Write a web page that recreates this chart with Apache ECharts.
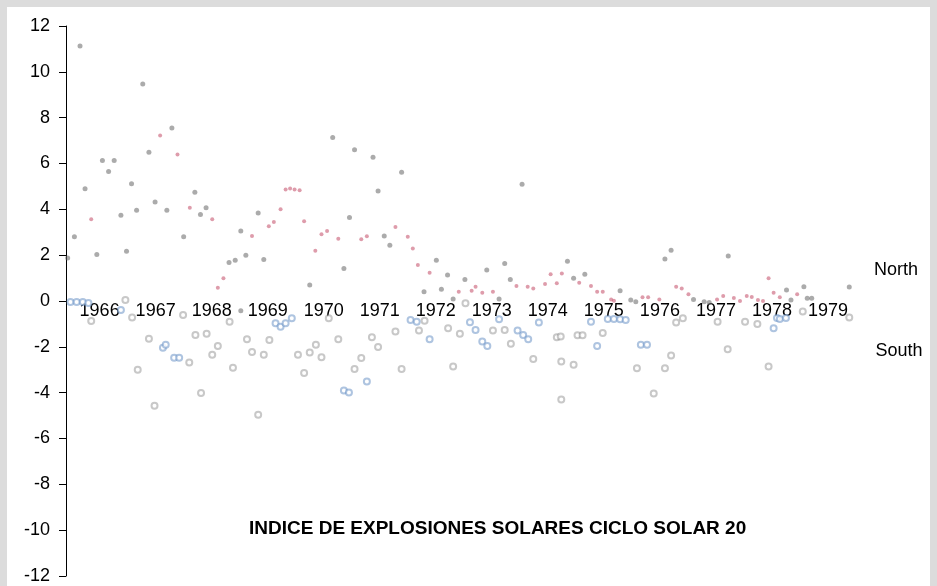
<!DOCTYPE html>
<html>
<head>
<meta charset="utf-8">
<script src="https://cdn.jsdelivr.net/npm/echarts@6/dist/echarts.min.js"></script>
<style>
  html, body { margin: 0; padding: 0; background: #dcdcdc; }
  #chart { width: 937px; height: 586px; }
</style>
</head>
<body>
<div id="chart"></div>
<script>
// años (etiquetas del eje x, centradas a mitad de año)
var years = [1966, 1967, 1968, 1969, 1970, 1971, 1972, 1973, 1974, 1975, 1976, 1977, 1978, 1979];

// hemisferio norte, valores mensuales (puntos grises)
var northMonthly = [
  [1965.93, 1.88], [1966.05, 2.80], [1966.15, 11.13], [1966.24, 4.90], [1966.45, 2.03],
  [1966.55, 6.13], [1966.66, 5.65], [1966.76, 6.13], [1966.88, 3.74], [1966.98, 2.17],
  [1967.07, 5.12], [1967.16, 3.96], [1967.27, 9.47], [1967.38, 6.49], [1967.49, 4.32],
  [1967.70, 3.96], [1967.79, 7.55], [1968.00, 2.80], [1968.20, 4.75], [1968.30, 3.78],
  [1968.40, 4.07], [1968.81, 1.68], [1968.92, 1.78], [1969.02, 3.06], [1969.02, -0.43],
  [1969.11, 2.00], [1969.33, 3.84], [1969.43, 1.81], [1970.25, 0.70], [1970.66, 7.14],
  [1970.86, 1.42], [1970.96, 3.64], [1971.05, 6.60], [1971.38, 6.27], [1971.47, 4.80],
  [1971.58, 2.84], [1971.68, 2.43], [1971.89, 5.62], [1972.29, 0.40], [1972.51, 1.78],
  [1972.60, 0.51], [1972.71, 1.13], [1972.81, 0.09], [1973.02, 0.94], [1973.41, 1.35],
  [1973.63, 0.09], [1973.73, 1.64], [1973.83, 0.94], [1974.04, 5.09], [1974.85, 1.74],
  [1974.96, 0.99], [1975.16, 1.17], [1975.79, 0.45], [1975.98, 0.04], [1976.07, -0.03],
  [1976.59, 1.83], [1976.70, 2.22], [1977.10, 0.07], [1977.29, -0.03], [1977.38, -0.07],
  [1977.72, 1.96], [1978.76, 0.48], [1978.84, 0.04], [1979.07, 0.62], [1979.13, 0.12],
  [1979.21, 0.12], [1979.88, 0.61]
];

// hemisferio norte, media suavizada (puntos rosas)
var northSmooth = [
  [1966.35, 3.57], [1967.58, 7.22], [1967.89, 6.39], [1968.11, 4.07], [1968.51, 3.57],
  [1968.61, 0.58], [1968.71, 0.99], [1969.22, 2.84], [1969.52, 3.26], [1969.61, 3.45],
  [1969.73, 4.00], [1969.82, 4.87], [1969.90, 4.91], [1969.98, 4.87], [1970.07, 4.83],
  [1970.15, 3.48], [1970.35, 2.19], [1970.46, 2.91], [1970.56, 3.06], [1970.76, 2.72],
  [1971.17, 2.70], [1971.27, 2.83], [1971.78, 3.23], [1972.00, 2.80], [1972.09, 2.29],
  [1972.18, 1.57], [1972.39, 1.23], [1972.91, 0.40], [1973.14, 0.45], [1973.21, 0.62],
  [1973.33, 0.36], [1973.52, 0.40], [1973.94, 0.65], [1974.14, 0.62], [1974.24, 0.55],
  [1974.45, 0.74], [1974.55, 1.17], [1974.66, 0.77], [1974.75, 1.20], [1975.06, 0.80],
  [1975.27, 0.65], [1975.38, 0.40], [1975.48, 0.40], [1975.63, 0.07], [1975.68, 0.01],
  [1976.19, 0.16], [1976.29, 0.16], [1976.49, 0.07], [1976.79, 0.62], [1976.89, 0.55],
  [1977.01, 0.30], [1977.52, 0.07], [1977.63, 0.22], [1977.82, 0.13], [1977.93, 0.00],
  [1978.05, 0.22], [1978.14, 0.17], [1978.25, 0.04], [1978.34, 0.00], [1978.44, 0.99],
  [1978.53, 0.36], [1978.64, 0.16], [1978.95, 0.30]
];

// hemisferio sur, valores mensuales (circulos grises)
var southMonthly = [
  [1966.35, -0.87], [1966.96, 0.04], [1967.08, -0.72], [1967.18, -3.00], [1967.38, -1.65],
  [1967.48, -4.57], [1967.99, -0.61], [1968.10, -2.68], [1968.21, -1.48], [1968.31, -4.01],
  [1968.41, -1.43], [1968.51, -2.35], [1968.61, -1.96], [1968.82, -0.90], [1968.88, -2.91],
  [1969.13, -1.67], [1969.22, -2.23], [1969.33, -4.96], [1969.43, -2.35], [1969.53, -1.70],
  [1970.04, -2.35], [1970.15, -3.14], [1970.25, -2.25], [1970.36, -1.91], [1970.46, -2.45],
  [1970.59, -0.75], [1970.76, -1.67], [1971.05, -2.97], [1971.17, -2.49], [1971.36, -1.58],
  [1971.47, -2.01], [1971.78, -1.33], [1971.89, -2.97], [1972.20, -1.29], [1972.30, -0.86],
  [1972.72, -1.19], [1972.81, -2.86], [1972.93, -1.43], [1973.03, -0.10], [1973.52, -1.29],
  [1973.73, -1.26], [1973.84, -1.87], [1974.24, -2.53], [1974.66, -1.58], [1974.73, -1.55],
  [1974.74, -2.64], [1974.74, -4.30], [1974.96, -2.78], [1975.03, -1.49], [1975.12, -1.49],
  [1975.48, -1.40], [1976.09, -2.93], [1976.39, -4.04], [1976.59, -2.93], [1976.70, -2.38],
  [1976.79, -0.94], [1976.91, -0.75], [1977.53, -0.90], [1977.71, -2.10], [1978.02, -0.90],
  [1978.24, -1.00], [1978.44, -2.86], [1979.05, -0.46], [1979.88, -0.72]
];

// hemisferio sur, media suavizada (circulos azules)
var southSmooth = [
  [1965.98, -0.04], [1966.09, -0.04], [1966.20, -0.04], [1966.30, -0.09], [1966.88, -0.39],
  [1967.63, -2.04], [1967.68, -1.91], [1967.83, -2.48], [1967.92, -2.48], [1969.64, -0.97],
  [1969.73, -1.12], [1969.82, -0.97], [1969.93, -0.75], [1970.86, -3.90], [1970.95, -3.99],
  [1971.27, -3.51], [1972.05, -0.83], [1972.16, -0.90], [1972.39, -1.67], [1973.11, -0.93],
  [1973.21, -1.26], [1973.33, -1.77], [1973.42, -1.96], [1973.63, -0.80], [1973.96, -1.29],
  [1974.06, -1.48], [1974.15, -1.67], [1974.34, -0.94], [1975.27, -0.90], [1975.38, -1.96],
  [1975.57, -0.78], [1975.68, -0.78], [1975.79, -0.80], [1975.89, -0.83], [1976.16, -1.91],
  [1976.27, -1.91], [1978.53, -1.19], [1978.59, -0.74], [1978.64, -0.78], [1978.75, -0.74]
];

var chart = echarts.init(document.getElementById('chart'));
var font = 'Liberation Sans, Arial, sans-serif';

chart.setOption({
  backgroundColor: '#dcdcdc',
  animation: false,
  title: {
    text: 'INDICE DE EXPLOSIONES SOLARES CICLO SOLAR 20',
    left: 244,
    top: 514,
    textStyle: { fontFamily: font, fontSize: 19, fontWeight: 'bold', color: '#000' }
  },
  graphic: [
    // marco blanco dentro del borde gris
    { type: 'rect', z: -10, shape: { x: 7, y: 7, width: 923, height: 579 }, style: { fill: '#fff' } },
    { type: 'text', x: 896, y: 270, style: { text: 'North', font: '18px ' + font, fill: '#000', textAlign: 'center', textVerticalAlign: 'middle' } },
    { type: 'text', x: 899, y: 351, style: { text: 'South', font: '18px ' + font, fill: '#000', textAlign: 'center', textVerticalAlign: 'middle' } }
  ],
  grid: { left: 66, right: 53, top: 26, bottom: 10 },
  xAxis: {
    type: 'value',
    min: 1965.9,
    max: 1980.5,
    position: 'bottom',
    // sube el eje hasta la linea del cero (mitad del rango -12..12)
    offset: -275,
    axisLine: { show: false, onZero: false },
    axisTick: { show: false },
    splitLine: { show: false },
    axisLabel: {
      customValues: years.map(function (y) { return y + 0.5; }),
      formatter: function (v) { return String(Math.floor(v)); },
      margin: 1,
      color: '#000',
      fontFamily: font,
      fontSize: 18
    }
  },
  yAxis: {
    type: 'value',
    min: -12,
    max: 12,
    interval: 2,
    axisLine: { show: true, onZero: false, lineStyle: { color: '#000', width: 1 } },
    axisTick: { show: true, inside: false, length: 7, lineStyle: { color: '#000' } },
    splitLine: { show: false },
    axisLabel: { color: '#000', fontFamily: font, fontSize: 18, margin: 16 }
  },
  series: [
    {
      name: 'South monthly',
      type: 'scatter',
      symbol: 'emptyCircle',
      symbolSize: 6,
      itemStyle: { color: 'rgba(130,130,130,0.55)', borderWidth: 1 },
      data: southMonthly
    },
    {
      name: 'South',
      type: 'scatter',
      symbol: 'emptyCircle',
      symbolSize: 6,
      itemStyle: { color: 'rgba(110,150,200,0.7)', borderWidth: 1 },
      data: southSmooth
    },
    {
      name: 'North monthly',
      type: 'scatter',
      symbol: 'circle',
      symbolSize: 5,
      itemStyle: { color: 'rgba(105,105,105,0.7)' },
      data: northMonthly
    },
    {
      name: 'North',
      type: 'scatter',
      symbol: 'circle',
      symbolSize: 4,
      itemStyle: { color: 'rgba(200,90,115,0.75)' },
      data: northSmooth
    }
  ]
});
</script>
</body>
</html>
